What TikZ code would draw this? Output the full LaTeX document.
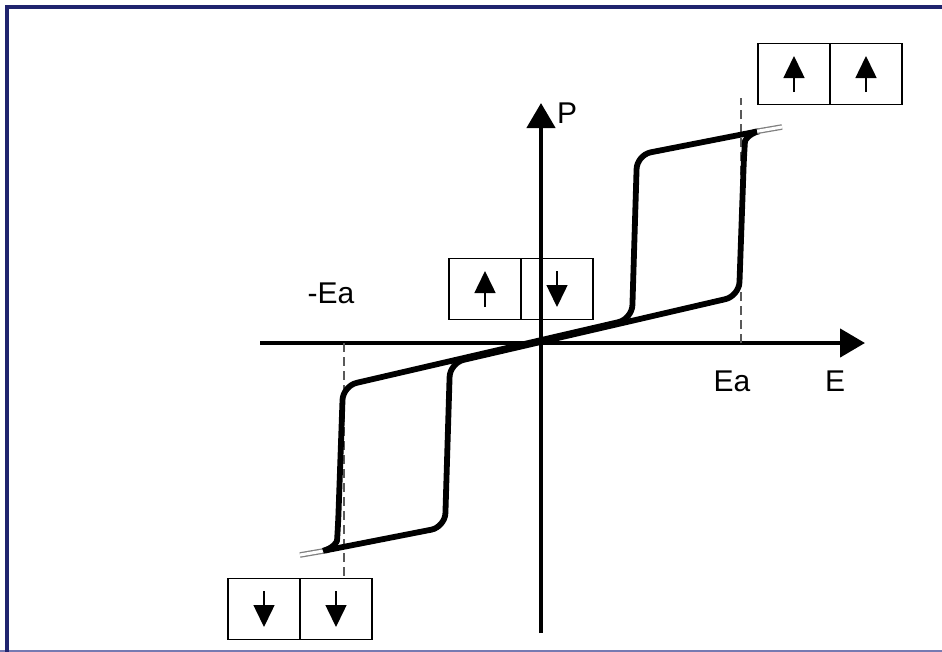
\documentclass[tikz,border=0pt]{standalone}
\usepackage{fontspec}
\setmainfont{Liberation Sans}
\usetikzlibrary{arrows.meta}
\definecolor{navy}{RGB}{32,36,110}
\definecolor{rim}{RGB}{118,122,178}

\begin{document}
\begin{tikzpicture}[x=1pt,y=-1pt,
    axis/.style={line width=4.5pt,-{Triangle[width=28pt,length=25pt]}},
    loop/.style={line width=5.8pt,rounded corners=14pt,line join=round},
    tip/.style={draw=gray,line width=1.3pt,double=white,double distance=3pt},
    guide/.style={gray!70!black,line width=1.4pt,dash pattern=on 9pt off 5pt},
    cell/.style={draw,line width=1.6pt,minimum width=72pt,minimum height=61pt,inner sep=0pt},
    spin/.style={line width=1.5pt,-{Triangle[width=21pt,length=22pt]}},
    lbl/.style={font=\fontsize{30}{34}\selectfont,inner sep=0pt}]
  \useasboundingbox (0,0) rectangle (942,651);
  \draw[rim,line width=2pt] (0,650.5) -- (942,650.5);
  \draw[navy,line width=4pt] (6.5,660) -- (6.5,6.5) -- (960,6.5);

  \coordinate (O) at (541,343);
  \coordinate (Emin) at (260,343);
  \coordinate (Emax) at (865,343);
  \coordinate (Pmin) at (541,633);
  \coordinate (Pmax) at (541,103);
  \coordinate (Ea) at (741,343);
  \coordinate (EaT) at (741,98);
  \coordinate (mEa) at (344,343);
  \coordinate (mEaB) at (344,578);
  \draw[axis] (Emin)--(Emax);
  \draw[axis] (Pmin)--(Pmax);
  \draw[guide] (Ea)--(EaT) (mEa)--(mEaB);

  \node[lbl] (P) at (567,113) {P};
  \node[lbl] (E) at (835,381) {E};
  \node[lbl] (Ealbl) at (732,381) {Ea};
  \node[lbl] (mEalbl) at (331,293) {-Ea};

  \foreach \r in {0,180}{%
    \begin{scope}[shift={(541,341)},rotate=\r]
      \draw[tip] (-241,214)--(-212,209);
      \draw[loop] (-216,209.5)--(-96,186)--(-91,22)--(198,-45)--(203,-186)
        .. controls (204,-200) and (207,-207) .. (218,-209.8);
    \end{scope}
  }

  \foreach \bx/\by/\sa/\sb [count=\i] in {%
    830/74/-1/-1,
    521/289/-1/1,
    300/609/1/1}{%
      \node[cell] (c\i l) at ({\bx-36},\by) {};
      \node[cell] (c\i r) at ({\bx+36},\by) {};
      \draw[spin] ({\bx-36},{\by-18*\sa})--({\bx-36},{\by+18*\sa});
      \draw[spin] ({\bx+36},{\by-18*\sb})--({\bx+36},{\by+18*\sb});
    }
\end{tikzpicture}
\end{document}
